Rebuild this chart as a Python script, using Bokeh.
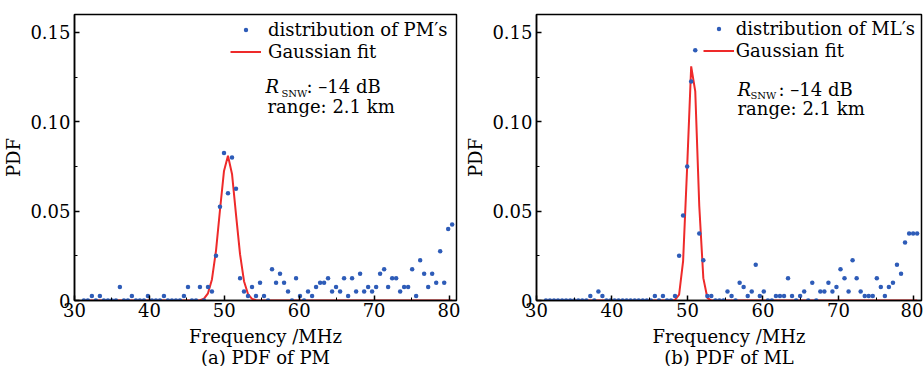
from bokeh.plotting import figure
from bokeh.models import FixedTicker, Label, Legend, LegendItem, CustomJSTickFormatter, Title
from bokeh.layouts import row
from bokeh.embed import file_html
from bokeh.resources import INLINE

# frequency bins (MHz)
freq = [31.25, 31.78, 32.32, 32.85, 33.39, 33.92, 34.46, 34.99, 35.53, 36.06,
        36.60, 37.13, 37.66, 38.20, 38.73, 39.27, 39.80, 40.34, 40.87, 41.41,
        41.94, 42.47, 43.01, 43.54, 44.08, 44.61, 45.15, 45.68, 46.22, 46.75,
        47.29, 47.82, 48.35, 48.89, 49.42, 49.96, 50.49, 51.03, 51.56, 52.10,
        52.63, 53.16, 53.70, 54.23, 54.77, 55.30, 55.84, 56.37, 56.91, 57.44,
        57.98, 58.51, 59.04, 59.58, 60.11, 60.65, 61.18, 61.72, 62.25, 62.79,
        63.32, 63.85, 64.39, 64.92, 65.46, 65.99, 66.53, 67.06, 67.60, 68.13,
        68.67, 69.20, 69.73, 70.27, 70.80, 71.34, 71.87, 72.41, 72.94, 73.48,
        74.01, 74.54, 75.08, 75.61, 76.15, 76.68, 77.22, 77.75, 78.29, 78.82,
        79.36, 79.89, 80.42]

# (a) distribution of PM's
pm_pdf = [0, 0, 0.0025, 0, 0.0025, 0, 0, 0, 0, 0.0075,
          0, 0, 0.0025, 0, 0, 0, 0.0025, 0, 0, 0,
          0.0025, 0, 0, 0, 0, 0.0025, 0.0075, 0, 0, 0.0075,
          0, 0.0075, 0.005, 0.025, 0.0525, 0.0825, 0.06, 0.08, 0.0625, 0.0125,
          0.005, 0.0025, 0.0075, 0.0025, 0.01, 0.0025, 0, 0.0175, 0.01, 0.015,
          0.01, 0.005, 0, 0.0125, 0.0025, 0, 0.005, 0.0025, 0.0075, 0.01,
          0.01, 0.0125, 0.005, 0.0075, 0.005, 0.0125, 0.0025, 0.0125, 0.005, 0.015,
          0.005, 0.0075, 0.005, 0.0075, 0.015, 0.0175, 0.0075, 0.0125, 0.0125, 0.005,
          0.0075, 0.0075, 0.0175, 0.0025, 0.0225, 0.015, 0.0075, 0.015, 0.01, 0.0275,
          0.01, 0.04, 0.0425]
pm_fit = [0] * 29 + [0.0002, 0.0010, 0.0040, 0.0118, 0.0278, 0.0505, 0.0725,
                     0.0810, 0.0708, 0.0482, 0.0259, 0.0108, 0.0036, 0.0009,
                     0.0002] + [0] * 49

# (b) distribution of ML's
ml_pdf = [0, 0, 0, 0, 0, 0, 0, 0, 0, 0,
          0, 0.0025, 0, 0.005, 0.0025, 0, 0, 0, 0, 0,
          0, 0, 0, 0, 0, 0, 0, 0.0025, 0, 0.0025,
          0, 0, 0.0025, 0.025, 0.0475, 0.075, 0.1225, 0.14, 0.0375, 0.0225,
          0.0025, 0.0025, 0, 0, 0, 0.005, 0.0025, 0, 0.01, 0.0075,
          0.0025, 0.005, 0.02, 0.0025, 0.005, 0, 0, 0.0025, 0.0025, 0.0025,
          0.0125, 0.0025, 0, 0.0025, 0.005, 0, 0.01, 0, 0.005, 0.005,
          0.01, 0.005, 0.0075, 0.0175, 0.0125, 0.005, 0.0225, 0.0125, 0.005, 0.0025,
          0.0025, 0.0025, 0.0125, 0.0075, 0.0025, 0.0075, 0.01, 0.02, 0.015, 0.0325,
          0.0375, 0.0375, 0.0375]
ml_fit = [0] * 32 + [0.0003, 0.0033, 0.022, 0.075, 0.131, 0.117, 0.053,
                     0.0125, 0.0015] + [0] * 52

x_ticks = [30, 40, 50, 60, 70, 80]
x_minor = [35, 45, 55, 65, 75]
y_ticks = [0, 0.05, 0.10, 0.15]
y_minor = [0.025, 0.075, 0.125]

FONT = "DejaVu Serif"
BLUE = "#2e5cb8"
RED = "#ee2a2a"


def make_panel(width, bl, br, bt, bb, pdf, fit, dist_label, caption,
               leg_loc, ann):
    p = figure(width=width, height=366, x_range=(30, 81), y_range=(0, 0.16),
               output_backend="svg", toolbar_location=None,
               min_border_left=bl, min_border_right=br,
               min_border_top=bt, min_border_bottom=bb)
    p.xgrid.visible = False
    p.ygrid.visible = False
    p.outline_line_color = "black"
    p.outline_line_width = 1.5
    p.outline_line_alpha = 1.0
    p.background_fill_color = "white"
    p.border_fill_color = "white"

    p.xaxis.ticker = FixedTicker(ticks=x_ticks, minor_ticks=x_minor)
    p.yaxis.ticker = FixedTicker(ticks=y_ticks, minor_ticks=y_minor)
    p.yaxis.formatter = CustomJSTickFormatter(
        code="return tick == 0 ? '0' : tick.toFixed(2);")
    for ax in (p.xaxis[0], p.yaxis[0]):
        ax.axis_line_color = "black"
        ax.axis_line_width = 1.5
        ax.major_tick_in = 5
        ax.major_tick_out = 0
        ax.minor_tick_in = 3
        ax.minor_tick_out = 0
        ax.major_tick_line_width = 1.5
        ax.minor_tick_line_width = 1
        ax.major_tick_line_color = "black"
        ax.minor_tick_line_color = "black"
        ax.major_label_text_font = FONT
        ax.major_label_text_font_size = "18px"
        ax.major_label_text_color = "black"
        ax.axis_label_text_font = FONT
        ax.axis_label_text_font_size = "18px"
        ax.axis_label_text_font_style = "normal"
        ax.axis_label_text_color = "black"
    p.yaxis.major_label_standoff = 4
    p.yaxis.axis_label = "PDF"
    p.yaxis.axis_label_standoff = 3
    p.xaxis.major_label_standoff = 2
    p.xaxis.axis_label = "Frequency /MHz"
    p.xaxis.axis_label_standoff = 6

    cap = Title(text=caption, align="center",
                text_font=FONT, text_font_size="18px",
                text_font_style="normal", text_color="black",
                standoff=-10, offset=0)
    p.add_layout(cap, "below")

    ln = p.line(freq, fit, line_color=RED, line_width=2)
    sc = p.scatter(freq, pdf, size=4.5, fill_color=BLUE, line_color=None,
                   marker="circle")

    legend = Legend(items=[LegendItem(label=dist_label, renderers=[sc]),
                           LegendItem(label="Gaussian fit", renderers=[ln])],
                    location=leg_loc)
    legend.border_line_color = None
    legend.background_fill_alpha = 0
    legend.padding = 0
    legend.margin = 0
    legend.spacing = 0
    legend.glyph_width = 31
    legend.glyph_height = 11
    legend.label_height = 22
    legend.label_standoff = ann["standoff"]
    legend.label_text_font = FONT
    legend.label_text_font_size = "18px"
    legend.label_text_color = "black"
    p.add_layout(legend)

    def lab(text, x, y, size="18px", style="normal", align="left"):
        p.add_layout(Label(x=x, y=y, x_units="screen", y_units="screen",
                           text=text, text_font=FONT, text_font_size=size,
                           text_font_style=style, text_align=align,
                           text_baseline="alphabetic", text_color="black"))

    rx, ry = ann["R"]
    lab("R", rx, ry, style="italic")
    sx, sy = ann["SNW"]
    lab("SNW", sx, sy, size="10px")
    cx, cy = ann["colon"]
    lab(": \u201314 dB", cx, cy)
    gx, gy = ann["range"]
    lab("range: 2.1 km", gx, gy)
    return p


p1 = make_panel(460, 72, 4, 13, 66, pm_pdf, pm_fit, "distribution of PM\u2032s",
                "(a) PDF of PM", (156, 237.5),
                {"R": (191, 214), "SNW": (207, 207.5), "colon": (232, 214),
                 "range": (193, 194), "standoff": 7})
p2 = make_panel(463, 76, 2, 14, 65, ml_pdf, ml_fit, "distribution of ML\u2032s",
                "(b) PDF of ML", (166.7, 238.7),
                {"R": (201, 211), "SNW": (214, 205), "colon": (242, 211),
                 "range": (201, 192), "standoff": 2})

layout = row(p1, p2)
open("out.html", "w").write(file_html(layout, INLINE))
